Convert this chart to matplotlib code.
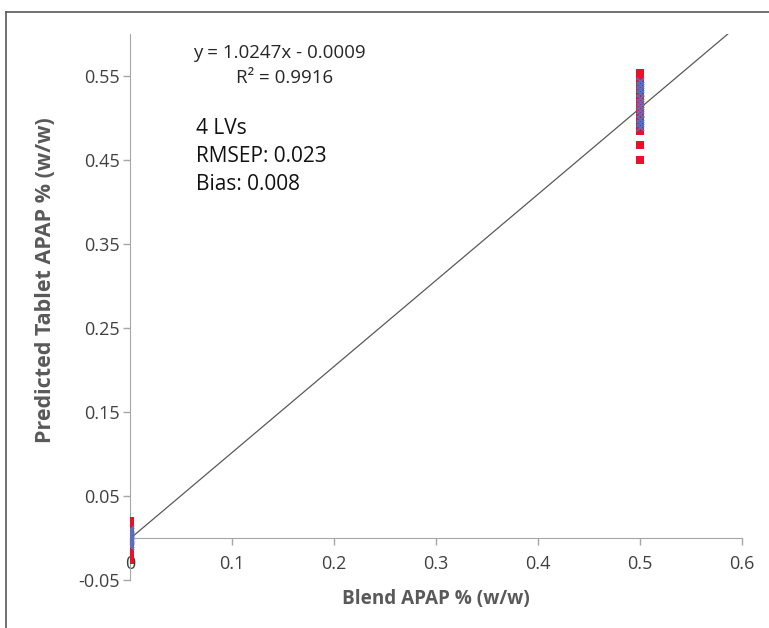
import numpy as np
import matplotlib.pyplot as plt
from matplotlib.lines import Line2D

plt.rcParams['font.family'] = ['Open Sans', 'DejaVu Sans']

# red squares (predicted tablets)
red_x = [0.0] * 13 + [0.5] * 17
red_y = [0.020, 0.016, 0.012, 0.008, 0.004, 0.000, -0.004, -0.008, -0.012,
         -0.015, -0.018, -0.022, -0.026,
         0.553, 0.548, 0.543, 0.538, 0.533, 0.528, 0.523, 0.518, 0.513,
         0.508, 0.503, 0.498, 0.493, 0.488, 0.484, 0.468, 0.450]

# blue crosses
blue_x = [0.0] * 8 + [0.5] * 12
blue_y = [0.011, 0.008, 0.005, 0.002, -0.001, -0.004, -0.007, -0.010,
          0.544, 0.539, 0.534, 0.529, 0.524, 0.519, 0.514, 0.509,
          0.504, 0.499, 0.494, 0.489]

slope, intercept = 1.0247, -0.0009
x_ticks = [0, 0.1, 0.2, 0.3, 0.4, 0.5, 0.6]
x_labels = ['0', '0.1', '0.2', '0.3', '0.4', '0.5', '0.6']
y_ticks = [-0.05, 0.05, 0.15, 0.25, 0.35, 0.45, 0.55]
y_labels = ['-0.05', '0.05', '0.15', '0.25', '0.35', '0.45', '0.55']

fig = plt.figure(figsize=(7.69, 6.28), dpi=100)
ax = fig.add_axes([0.169, 0.0764, 0.796, 0.870])

ax.scatter(red_x, red_y, marker='s', s=30, color='#e8102a', zorder=3, linewidths=0)
ax.scatter(blue_x, blue_y, marker='x', s=26, color='#5a6fc0', zorder=4, linewidths=1.3)

xl = np.array([0, (0.6 - intercept) / slope])
ax.plot(xl, slope * xl + intercept, color='#595959', lw=0.9, zorder=2)

ax.set_xlim(0, 0.6)
ax.set_ylim(-0.05, 0.6)
ax.set_xticks(x_ticks)
ax.set_xticklabels(x_labels)
ax.set_yticks(y_ticks)
ax.set_yticklabels(y_labels)

for s in ['top', 'right']:
    ax.spines[s].set_visible(False)
ax.spines['bottom'].set_position(('data', 0))
ax.spines['left'].set_color('#a6a6a6')
ax.spines['bottom'].set_color('#a6a6a6')
ax.tick_params(colors='#a6a6a6', labelcolor='#404040', labelsize=13,
               length=5, direction='out', width=1)
ax.tick_params(axis='x', pad=7)
ax.tick_params(axis='y', pad=2)
ax.patch.set_visible(False)

ax.set_xlabel('Blend APAP % (w/w)', fontsize=13.6, fontweight='bold', color='#595959')
ax.xaxis.set_label_coords(0.5, -0.017)
ax.set_ylabel('Predicted Tablet APAP % (w/w)', fontsize=15.5, fontweight='bold', color='#595959')
ax.yaxis.set_label_coords(-0.121, 0.548)

fig.text(279 / 769, 1 - 53 / 628, 'y = 1.0247x - 0.0009', ha='center', va='center',
         fontsize=13.5, color='#262626')
fig.text(285 / 769, 1 - 78 / 628, 'R² = 0.9916', ha='center', va='center',
         fontsize=13.5, color='#262626')
fig.text(196 / 769, 1 - 129 / 628, '4 LVs', ha='left', va='center', fontsize=15, color='#111111')
fig.text(196 / 769, 1 - 157 / 628, 'RMSEP: 0.023', ha='left', va='center', fontsize=15, color='#111111')
fig.text(196 / 769, 1 - 185 / 628, 'Bias: 0.008', ha='left', va='center', fontsize=15, color='#111111')

# outer chart border
fig.add_artist(Line2D([6 / 769, 6 / 769], [0, 1 - 12 / 628], color='#595959', lw=1.2))
fig.add_artist(Line2D([6 / 769, 1], [1 - 12 / 628, 1 - 12 / 628], color='#595959', lw=1.2))

fig.savefig('out.png', dpi=100)
